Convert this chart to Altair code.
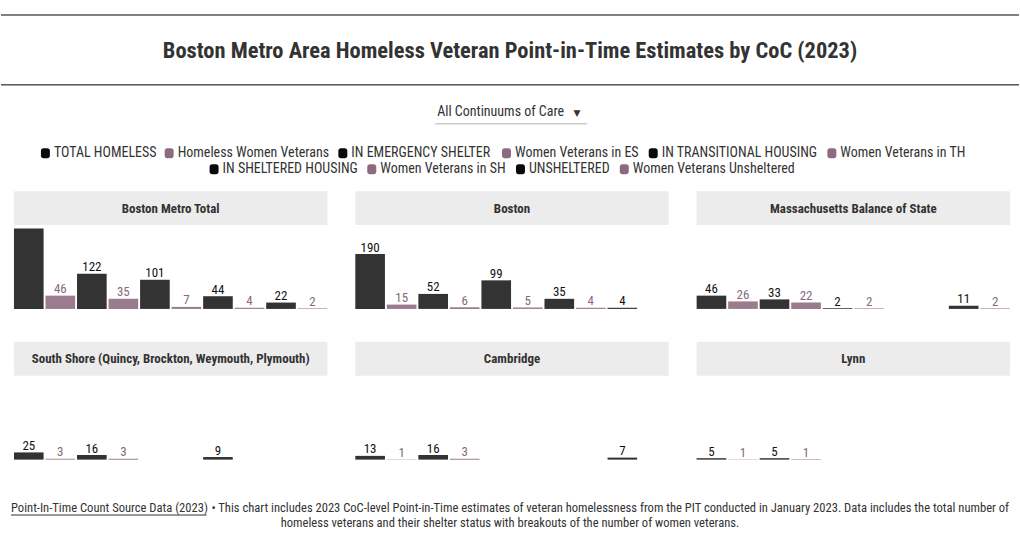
import altair as alt
import pandas as pd

FONT = "Roboto Condensed, Liberation Sans Narrow, Arial Narrow, sans-serif"

categories = [
    "TOTAL HOMELESS", "Homeless Women Veterans",
    "IN EMERGENCY SHELTER", "Women Veterans in ES",
    "IN TRANSITIONAL HOUSING", "Women Veterans in TH",
    "IN SHELTERED HOUSING", "Women Veterans in SH",
    "UNSHELTERED", "Women Veterans Unsheltered",
]
groups = ["all", "women"] * 5

cocs = [
    "Boston Metro Total",
    "Boston",
    "Massachusetts Balance of State",
    "South Shore (Quincy, Brockton, Weymouth, Plymouth)",
    "Cambridge",
    "Lynn",
]
boston_metro_total = [279, 46, 122, 35, 101, 7, 44, 4, 22, 2]
boston = [190, 15, 52, 6, 99, 5, 35, 4, 4, None]
ma_balance_of_state = [46, 26, 33, 22, 2, 2, None, None, 11, 2]
south_shore = [25, 3, 16, 3, None, None, 9, None, None, None]
cambridge = [13, 1, 16, 3, None, None, None, None, 7, None]
lynn = [5, 1, 5, 1, None, None, None, None, None, None]

title_text = "Boston Metro Area Homeless Veteran Point-in-Time Estimates by CoC (2023)"
dropdown_text = "All Continuums of Care"
link_text = "Point-In-Time Count Source Data (2023)"
note_line1 = ("\u2022 This chart includes 2023 CoC-level Point-in-Time estimates of veteran "
              "homelessness from the PIT conducted in January 2023. Data includes the total number of")
note_line2 = "homeless veterans and their shelter status with breakouts of the number of women veterans."

# legend layout (pixel positions of each legend entry's text start)
legend_text_x = [53, 177, 351, 515, 662, 841, 222, 380, 529, 633]
legend_text_y = [153, 153, 153, 153, 153, 153, 169, 169, 169, 169]

DARK = "#333333"
MAUVE = "#9b7b8e"

rows = []
for coc, vals in zip(cocs, [boston_metro_total, boston, ma_balance_of_state,
                            south_shore, cambridge, lynn]):
    for cat, grp, v in zip(categories, groups, vals):
        rows.append({"coc": coc, "category": cat, "group": grp, "value": v})
df = pd.DataFrame(rows)

dummy = pd.DataFrame({"a": [0]})

# ---------------- header ----------------
W = 1020
rule_top = alt.Chart(dummy).mark_rule(color="#000000", strokeWidth=1).encode(
    x=alt.value(0), x2=alt.value(W), y=alt.value(14.5))
rule_bot = alt.Chart(dummy).mark_rule(color="#000000", strokeWidth=1).encode(
    x=alt.value(0), x2=alt.value(W), y=alt.value(84.5))
title = alt.Chart(dummy).mark_text(
    text=title_text, font=FONT, fontSize=22.5, fontWeight="bold", color="#333333",
    align="center", baseline="middle").encode(x=alt.value(510), y=alt.value(51))
dd_text = alt.Chart(dummy).mark_text(
    text=dropdown_text, font=FONT, fontSize=14, color="#333333",
    align="left", baseline="middle").encode(x=alt.value(437), y=alt.value(112))
dd_arrow = alt.Chart(dummy).mark_text(
    text="\u25BC", font="DejaVu Sans", fontSize=9, color="#333333",
    align="center", baseline="middle").encode(x=alt.value(577), y=alt.value(113))
dd_line = alt.Chart(dummy).mark_rule(color="#cccccc", strokeWidth=1.5).encode(
    x=alt.value(435), x2=alt.value(587), y=alt.value(123.5))

leg = pd.DataFrame({
    "label": categories,
    "group": groups,
    "tx": legend_text_x,
    "ty": legend_text_y,
})
leg["sx"] = leg["tx"] - 13
leg["sx2"] = leg["tx"] - 4
leg["sy"] = leg["ty"] - 5
leg["sy2"] = leg["ty"] + 5
leg_sym = alt.Chart(leg).mark_rect(cornerRadius=2.5).encode(
    x=alt.X("sx:Q", scale=None, axis=None), x2="sx2:Q",
    y=alt.Y("sy:Q", scale=None, axis=None), y2="sy2:Q",
    color=alt.condition(alt.datum.group == "women", alt.value("#8d6a80"), alt.value("#0a0a0a")))
leg_txt = alt.Chart(leg).mark_text(
    font=FONT, fontSize=14, color="#333333", align="left", baseline="middle").encode(
    x=alt.X("tx:Q", scale=None, axis=None), y=alt.Y("ty:Q", scale=None, axis=None),
    text="label:N")

header = alt.layer(rule_top, rule_bot, title, dd_text, dd_arrow, dd_line,
                   leg_sym, leg_txt).properties(width=W, height=191)

# ---------------- panels ----------------
PW, PH = 314, 83

xenc = alt.X("category:N", axis=None,
             scale=alt.Scale(domain=categories, paddingInner=0.06, paddingOuter=0))
yenc = alt.Y("value:Q", axis=None, scale=alt.Scale(domain=[0, 287], nice=False))


def make_panel(name):
    sel = alt.datum.coc == name
    head_rect = alt.Chart(dummy).mark_rect(color="#ececec").encode(
        x=alt.value(0), x2=alt.value(PW), y=alt.value(-35), y2=alt.value(-1))
    head_text = alt.Chart(dummy).mark_text(
        text=name, font=FONT, fontSize=13, fontWeight="bold", color="#333333",
        align="center", baseline="middle").encode(x=alt.value(PW / 2), y=alt.value(-17.5))
    bars = alt.Chart(df).transform_filter(sel).mark_bar().encode(
        x=xenc, y=yenc,
        color=alt.Color("group:N", scale=alt.Scale(domain=["all", "women"],
                                                   range=[DARK, MAUVE]), legend=None),
    )
    labels = alt.Chart(df).transform_filter(sel).mark_text(
        font=FONT, fontSize=13, baseline="alphabetic", dy=-2.5, clip=True).encode(
        x=xenc, y=yenc, text=alt.Text("value:Q", format="d"),
        color=alt.condition(alt.datum.group == "women", alt.value("#86697b"), alt.value("#111111")),
    )
    return alt.layer(head_rect, head_text, bars, labels).properties(width=PW, height=PH)


grid = alt.concat(*[make_panel(c) for c in cocs], columns=3,
                  spacing={"row": 68, "column": 28}, bounds="flush")

spacer = alt.Chart(dummy).mark_rect(opacity=0).encode(
    x=alt.value(0), x2=alt.value(1), y=alt.value(0), y2=alt.value(1)).properties(width=13, height=10)
middle = alt.hconcat(spacer, grid, spacing=0, bounds="flush")

# ---------------- footer ----------------
FS = 12.6
f_link = alt.Chart(dummy).mark_text(
    text=link_text, font=FONT, fontSize=FS, color="#333333",
    align="left", baseline="middle").encode(x=alt.value(10), y=alt.value(48))
f_ul = alt.Chart(dummy).mark_rule(color="#333333", strokeWidth=1).encode(
    x=alt.value(10), x2=alt.value(206), y=alt.value(55.5))
f_rest = alt.Chart(dummy).mark_text(
    text=note_line1, font=FONT, fontSize=FS, color="#333333",
    align="right", baseline="middle").encode(x=alt.value(1010), y=alt.value(48))
f_line2 = alt.Chart(dummy).mark_text(
    text=note_line2, font=FONT, fontSize=FS, color="#333333",
    align="center", baseline="middle").encode(x=alt.value(510), y=alt.value(63.5))
footer = alt.layer(f_link, f_ul, f_rest, f_line2).properties(width=W, height=78)

chart = alt.vconcat(header, middle, footer, spacing=0).properties(
    padding=0, background="white"
).configure_view(strokeWidth=0)

chart.save("out.html", embed_options={"renderer": "svg", "actions": False})
